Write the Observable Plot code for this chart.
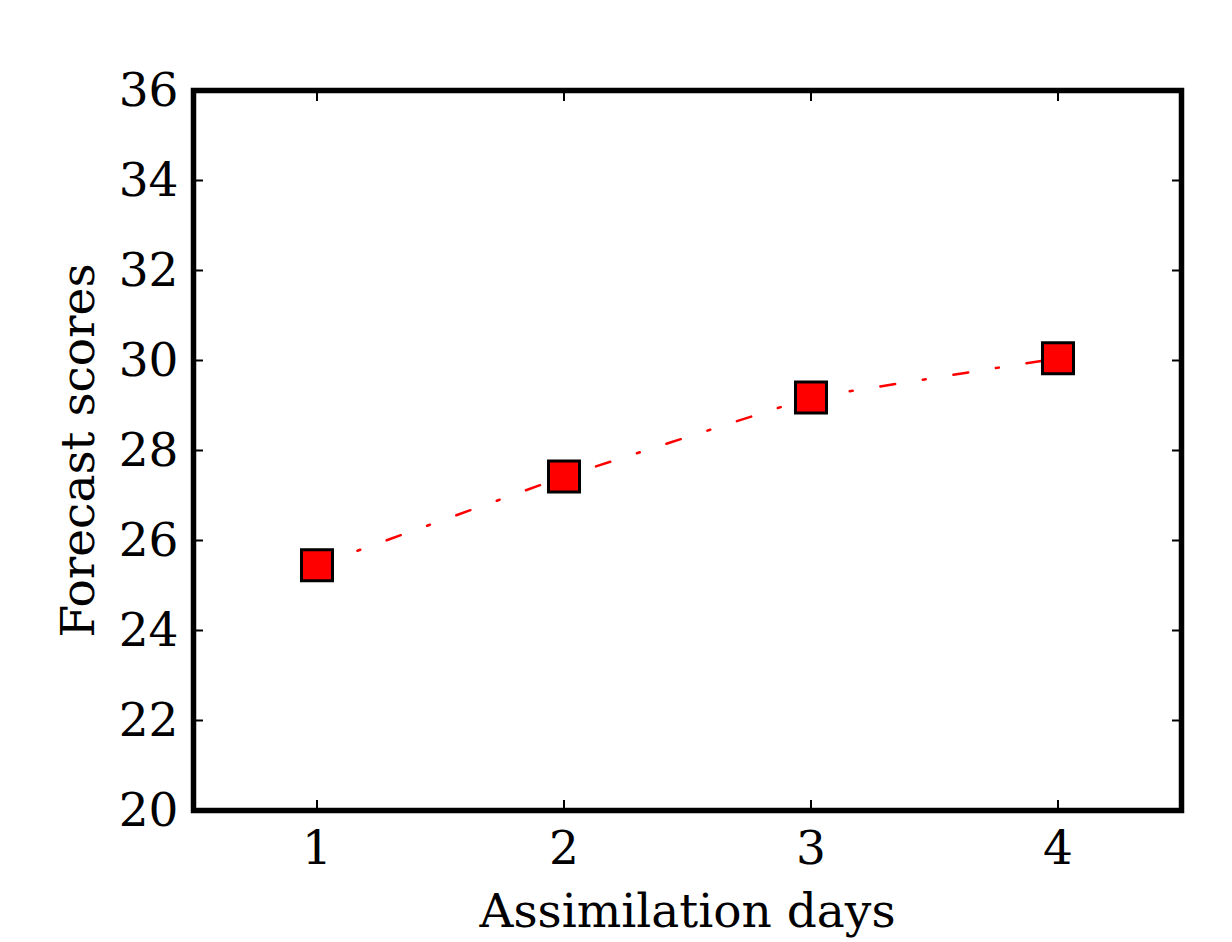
<!DOCTYPE html>
<html>
<head>
<meta charset="utf-8">
<script src="https://cdn.jsdelivr.net/npm/d3@7"></script>
<script src="https://cdn.jsdelivr.net/npm/@observablehq/plot@0.6"></script>
<style>
  html, body { margin: 0; padding: 0; background: #fff; }
  svg { display: block; }
</style>
</head>
<body>
<div id="chart"></div>
<script>
const days = [1, 2, 3, 4];
const scores = [25.45, 27.42, 29.18, 30.05];
const xTicks = [1, 2, 3, 4];
const yTicks = [20, 22, 24, 26, 28, 30, 32, 34, 36];
const xLabel = "Assimilation days";
const yLabel = "Forecast scores";

const data = days.map((d, i) => ({day: d, score: scores[i]}));

const chart = Plot.plot({
  width: 1232,
  height: 942,
  marginLeft: 193,
  marginRight: 51,
  marginTop: 90,
  marginBottom: 132,
  style: {fontFamily: "'DejaVu Serif', serif", fontSize: "47px", color: "#000", background: "#fff", overflow: "visible"},
  x: {domain: [0.5, 4.5]},
  y: {domain: [20, 36]},
  marks: [
    Plot.axisY(yTicks, {anchor: "left", tickSize: -10, tickPadding: 25, strokeWidth: 2,
      tickFormat: d3.format("d"),
      label: yLabel, labelAnchor: "center", labelArrow: "none", labelOffset: 133}),
    Plot.axisY(yTicks, {anchor: "right", tickSize: -10, strokeWidth: 2, tickFormat: () => "", label: null}),
    Plot.axisX(xTicks, {anchor: "bottom", tickSize: -10, tickPadding: 30, strokeWidth: 2,
      tickFormat: d3.format("d"),
      label: xLabel, labelAnchor: "center", labelArrow: "none", labelOffset: 116}),
    Plot.axisX(xTicks, {anchor: "top", tickSize: -10, strokeWidth: 2, tickFormat: () => "", label: null}),
    Plot.line(data, {x: "day", y: "score", stroke: "#ff0000", strokeWidth: 2.5, strokeDasharray: "15,28,3,28"}),
    Plot.dot(data, {x: "day", y: "score", symbol: "square", r: 17.5, fill: "#ff0000", stroke: "#000", strokeWidth: 3}),
    Plot.frame({stroke: "#000", strokeWidth: 5.5})
  ]
});
document.getElementById("chart").appendChild(chart);
</script>
</body>
</html>
